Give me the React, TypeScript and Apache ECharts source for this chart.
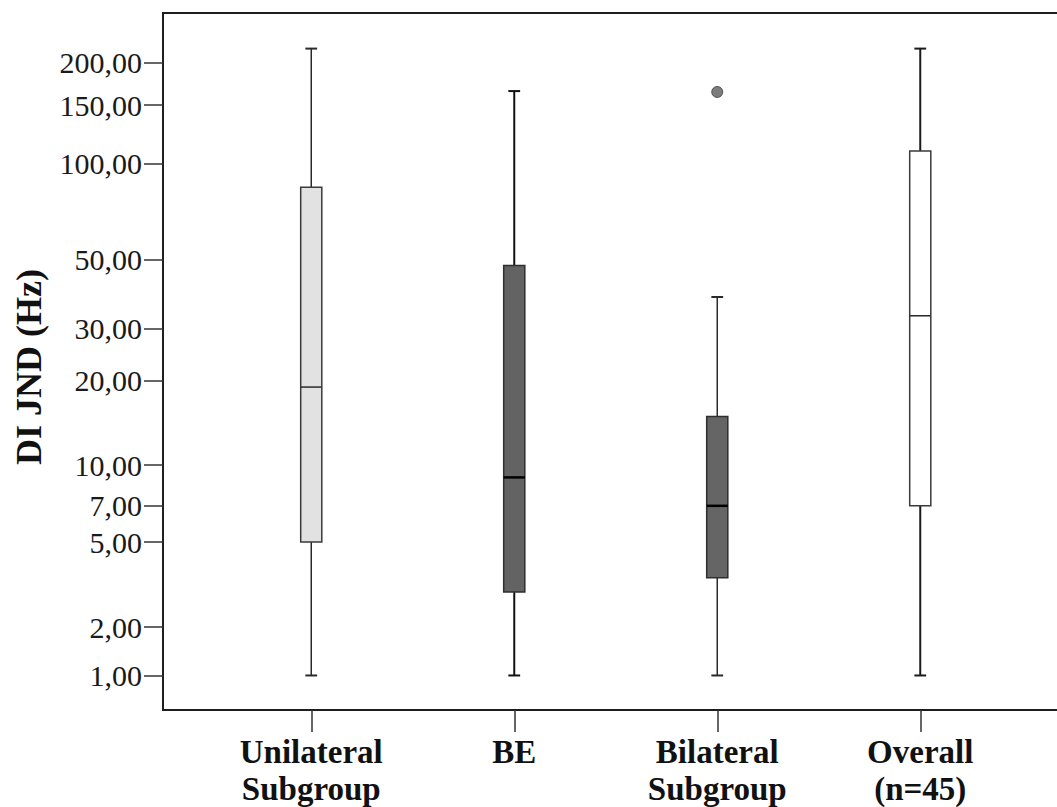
import React, { useEffect, useRef } from "react";
import * as echarts from "echarts";

// ---- Data ----
const categories = ["Unilateral\nSubgroup", "BE", "Bilateral\nSubgroup", "Overall\n(n=45)"];
const whiskerLow = [1, 1, 1, 1];
const quartile1 = [5, 3, 3.5, 7];
const medians = [19, 9, 7, 33];
const quartile3 = [84.5, 48, 15, 109];
const whiskerHigh = [220, 165, 38, 220];
const outlierPoints: [number, number][] = [[2, 164]];
const yTicks = [1, 2, 5, 7, 10, 20, 30, 50, 100, 150, 200];
const yRangeRaw = [0.49, 279];

// power scale used by the original axis: (v + 1) ^ 0.05
const EXP = 0.05;
const T = (v: number) => Math.pow(v + 1, EXP);
const invT = (t: number) => Math.pow(t, 1 / EXP) - 1;

const boxStyles = [
  { fill: "#e2e2e2", stroke: "#3a3a3a", whisker: 1.5, whiskerColor: "#2a2a2a", median: 1.5, medianColor: "#2a2a2a" },
  { fill: "#636363", stroke: "#2e2e2e", whisker: 2, whiskerColor: "#111111", median: 2.5, medianColor: "#000000" },
  { fill: "#656565", stroke: "#2e2e2e", whisker: 1.5, whiskerColor: "#2a2a2a", median: 2.5, medianColor: "#000000" },
  { fill: "#ffffff", stroke: "#3a3a3a", whisker: 2, whiskerColor: "#1a1a1a", median: 1.5, medianColor: "#2a2a2a" },
];

const FONT = '"Liberation Serif", "Times New Roman", serif';

export default function App() {
  const ref = useRef<HTMLDivElement>(null);

  useEffect(() => {
    if (!ref.current) return;
    const chart = echarts.init(ref.current, undefined, { renderer: "svg" });

    const boxData = categories.map((_, i) => [
      i,
      T(whiskerLow[i]),
      T(quartile1[i]),
      T(medians[i]),
      T(quartile3[i]),
      T(whiskerHigh[i]),
    ]);

    const option: any = {
      animation: false,
      backgroundColor: "#ffffff",
      grid: {
        left: 163,
        top: 13,
        width: 950,
        height: 697,
        show: true,
        borderColor: "#1e1e1e",
        borderWidth: 2,
        backgroundColor: "transparent",
      },
      xAxis: {
        type: "value",
        min: -0.7303,
        max: 3.9495,
        splitLine: { show: false },
        axisLine: { show: true, onZero: false, lineStyle: { color: "#1e1e1e", width: 2 } },
        axisTick: {
          show: true,
          customValues: [0, 1, 2, 3],
          length: 22,
          lineStyle: { color: "#333", width: 1.5 },
        },
        axisLabel: {
          customValues: [0, 1, 2, 3],
          formatter: (v: number) => categories[Math.round(v)] ?? "",
          margin: 24,
          fontFamily: FONT,
          fontWeight: "bold",
          fontSize: 33,
          lineHeight: 36.5,
          color: "#111",
          align: "center",
        },
      },
      yAxis: {
        type: "value",
        min: T(yRangeRaw[0]),
        max: T(yRangeRaw[1]),
        splitLine: { show: false },
        axisLine: { show: true, onZero: false, lineStyle: { color: "#1e1e1e", width: 2 } },
        axisTick: {
          show: true,
          customValues: yTicks.map(T),
          length: 19,
          lineStyle: { color: "#333", width: 1.5 },
        },
        axisLabel: {
          customValues: yTicks.map(T),
          formatter: (v: number) => Math.round(invT(v)).toFixed(2).replace(".", ","),
          margin: 21,
          fontFamily: FONT,
          fontSize: 30,
          color: "#1a1a1a",
        },
      },
      graphic: [
        {
          type: "text",
          x: 29,
          y: 367,
          rotation: Math.PI / 2,
          style: {
            text: "DI JND (Hz)",
            font: `bold 36px ${FONT}`,
            fill: "#111",
            textAlign: "center",
            textVerticalAlign: "middle",
          },
        },
      ],
      series: [
        {
          type: "custom",
          data: boxData,
          encode: { x: 0, y: [1, 2, 3, 4, 5] },
          renderItem: (params: any, api: any) => {
            const i = params.dataIndex;
            const s = boxStyles[i];
            const x = api.value(0);
            const pLow = api.coord([x, api.value(1)]);
            const pQ1 = api.coord([x, api.value(2)]);
            const pMed = api.coord([x, api.value(3)]);
            const pQ3 = api.coord([x, api.value(4)]);
            const pHigh = api.coord([x, api.value(5)]);
            const band = api.size([1, 0])[0];
            const halfW = band * 0.052;
            const capHalf = band * 0.029;
            const c = pLow[0];
            return {
              type: "group",
              children: [
                {
                  type: "line",
                  shape: { x1: c, y1: pHigh[1], x2: c, y2: pQ3[1] },
                  style: { stroke: s.whiskerColor, lineWidth: s.whisker },
                },
                {
                  type: "line",
                  shape: { x1: c, y1: pQ1[1], x2: c, y2: pLow[1] },
                  style: { stroke: s.whiskerColor, lineWidth: s.whisker },
                },
                {
                  type: "line",
                  shape: { x1: c - capHalf, y1: pHigh[1], x2: c + capHalf, y2: pHigh[1] },
                  style: { stroke: s.whiskerColor, lineWidth: 2 },
                },
                {
                  type: "line",
                  shape: { x1: c - capHalf, y1: pLow[1], x2: c + capHalf, y2: pLow[1] },
                  style: { stroke: s.whiskerColor, lineWidth: 2 },
                },
                {
                  type: "rect",
                  shape: { x: c - halfW, y: pQ3[1], width: halfW * 2, height: pQ1[1] - pQ3[1] },
                  style: { fill: s.fill, stroke: s.stroke, lineWidth: 1.5 },
                },
                {
                  type: "line",
                  shape: { x1: c - halfW, y1: pMed[1], x2: c + halfW, y2: pMed[1] },
                  style: { stroke: s.medianColor, lineWidth: s.median },
                },
              ],
            };
          },
        },
        {
          type: "scatter",
          data: outlierPoints.map(([i, v]) => [i, T(v)]),
          symbol: "circle",
          symbolSize: 11,
          itemStyle: { color: "#5c5c5c", borderColor: "#3a3a3a", borderWidth: 1 },
        },
      ],
    };

    chart.setOption(option);
    return () => chart.dispose();
  }, []);

  return (
    <div
      style={{
        position: "absolute",
        left: 0,
        top: 0,
        width: 1057,
        height: 807,
        overflow: "hidden",
        background: "#fff",
      }}
    >
      <div ref={ref} style={{ width: 1120, height: 807 }} />
    </div>
  );
}
